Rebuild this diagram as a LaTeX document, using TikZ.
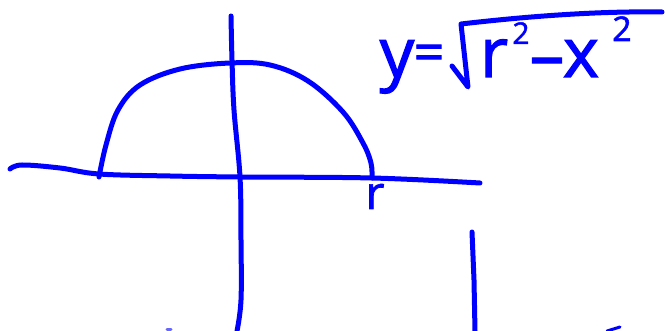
\documentclass[tikz,border=0pt]{standalone}
\usepackage{fontspec}
\setmainfont{Open Sans}
\newfontfamily\handfont{Open Sans}[FakeBold=1.6]
\definecolor{pen}{RGB}{0,0,255}
\tikzset{
  ink/.style={draw=pen, line width=5pt, line cap=round, line join=round},
  thin ink/.style={draw=pen, line width=3pt, line cap=round},
  hand/.style={text=pen, inner sep=0pt, anchor=base},
}
\begin{document}
\begin{tikzpicture}[x=1pt,y=-1pt]
\useasboundingbox (0,0) rectangle (665,331);
% axes
\draw[ink] plot[smooth, tension=0.6] coordinates {(10,169) (22,165) (60,168) (99,174) (170,176) (240,177) (372,178) (480,183)};
\draw[ink] plot[smooth, tension=0.6] coordinates {(231,16) (232,60) (234,110) (240,177) (241,240) (241,300) (237,331)};
% half circle
\draw[ink] plot[smooth, tension=0.6] coordinates {(99,177) (106,145) (118,110) (140,85) (180,69) (230,63) (270,65) (308,81) (343,112) (363,143) (371,163) (372,178)};
% right vertical line
\draw[ink] (472,232) -- (474,280) -- (475,331);
% small marks at bottom
\draw[thin ink, pen!60] (167,330) -- (171,330);
\draw[thin ink] (607,331) -- (620,327);
% label r
\node[hand, font=\fontsize{46}{48}\handfont] (rlab) at (375,209) {r};
% equation
\node[hand, font=\fontsize{54}{56}\handfont] (eq) at (429,71) {=};
\node[hand, font=\fontsize{69}{72}\handfont] (ey) at (397,77) {y};
\draw[ink] (452,66) -- (468,87) -- (461,24) .. controls (530,16) and (600,11) .. (662,12);
\node[hand, font=\fontsize{69}{72}\handfont] (er) at (494,77) {r};
\node[hand, font=\fontsize{30}{32}\handfont] (e2a) at (521,44) {2};
\node[hand, font=\fontsize{69}{72}\handfont] (em) at (547,79) {–};
\node[hand, font=\fontsize{69}{72}\handfont] (ex) at (581,77) {x};
\node[hand, font=\fontsize{34}{36}\handfont] (e2b) at (622,41) {2};
\end{tikzpicture}
\end{document}
